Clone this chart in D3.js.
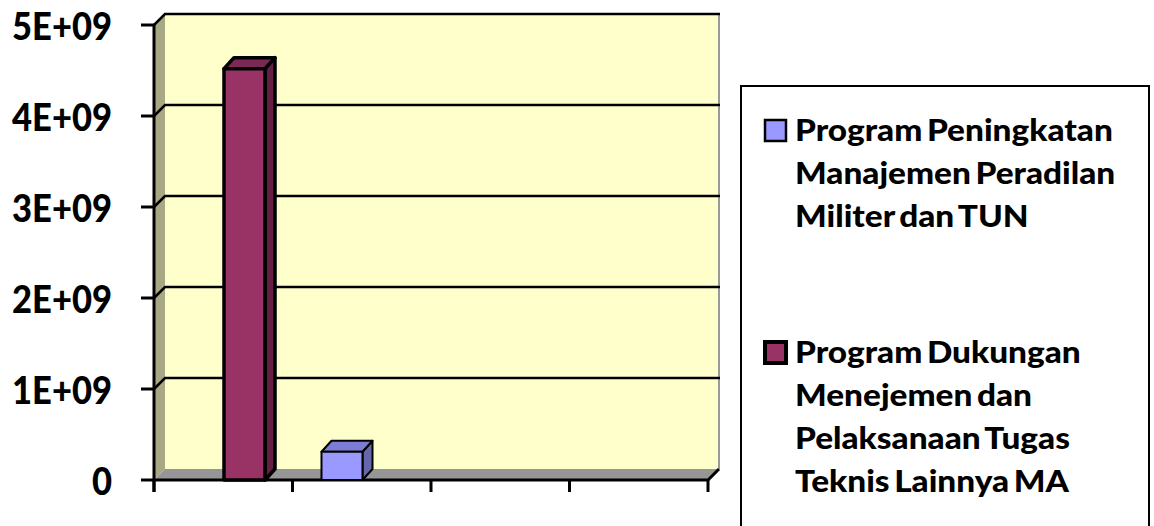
<!DOCTYPE html>
<html>
<head>
<meta charset="utf-8">
<script src="https://cdn.jsdelivr.net/npm/d3@7"></script>
<style>
  html, body { margin: 0; padding: 0; background: #fff; }
  svg { display: block; }
  text { font-family: Lato, "Open Sans", sans-serif; font-weight: 900; fill: #000; }
</style>
</head>
<body>
<svg id="chart" width="1154" height="526"></svg>
<script>
// data
const categories = ["1", "2", "3", "4"];
const seriesNames = [
  "Program Peningkatan Manajemen Peradilan Militer dan TUN",
  "Program Dukungan Menejemen dan Pelaksanaan Tugas Teknis Lainnya MA"
];
const peningkatanValues = [0, 310000000, 0, 0];
const dukunganValues = [4520000000, 0, 0, 0];
const yTickValues = [0, 1e9, 2e9, 3e9, 4e9, 5e9];
const yTickLabels = ["0", "1E+09", "2E+09", "3E+09", "4E+09", "5E+09"];
const legendLines = [
  ["Program Peningkatan", "Manajemen Peradilan", "Militer dan TUN"],
  ["Program Dukungan", "Menejemen dan", "Pelaksanaan Tugas", "Teknis Lainnya MA"]
];

const svg = d3.select("#chart");

const plotLeft = 154, plotRight = 708, plotTop = 25, plotBottom = 480;
const depthX = 11, depthY = 11;

const y = d3.scaleLinear().domain([0, 5e9]).range([plotBottom, plotTop]);
const x = d3.scaleBand().domain(categories).range([plotLeft, plotRight]);
const xs = d3.scaleBand().domain([0, 1]).range([29, 111]);

const styles = [
  { front: "#9999FF", topFace: "#7C7CD6", side: "#6666AA", stroke: 2 },
  { front: "#993366", topFace: "#7A2955", side: "#632043", stroke: 3.5 }
];

// side wall
svg.append("polygon")
  .attr("points", [[plotLeft, plotTop], [plotLeft + depthX, plotTop - depthY], [plotLeft + depthX, plotBottom - depthY], [plotLeft, plotBottom]].join(" "))
  .attr("fill", "#A8A884");

// back wall
svg.append("rect")
  .attr("x", plotLeft + depthX).attr("y", plotTop - depthY)
  .attr("width", plotRight - plotLeft).attr("height", plotBottom - plotTop)
  .attr("fill", "#FFFFCC");

// floor
svg.append("polygon")
  .attr("points", [[plotLeft, plotBottom], [plotLeft + depthX, plotBottom - depthY], [plotRight + depthX, plotBottom - depthY], [plotRight, plotBottom]].join(" "))
  .attr("fill", "#969696");

// back wall right edge
svg.append("line")
  .attr("x1", plotRight + depthX).attr("x2", plotRight + depthX)
  .attr("y1", plotTop - depthY).attr("y2", plotBottom - depthY)
  .attr("stroke", "#999").attr("stroke-width", 2);

// gridlines (zero is the floor, top one is the wall border)
const grid = svg.append("g").attr("stroke", "#000").attr("stroke-width", 2.5).attr("fill", "none");
yTickValues.filter(v => v > 0).forEach(v => {
  grid.append("polyline")
    .attr("points", [[plotLeft, y(v)], [plotLeft + depthX, y(v) - depthY], [plotRight + depthX + 1, y(v) - depthY]].join(" "));
});

// floor front edge
svg.append("polyline")
  .attr("points", [[plotLeft, plotBottom], [plotRight, plotBottom], [plotRight + depthX, plotBottom - depthY]].join(" "))
  .attr("fill", "none").attr("stroke", "#000").attr("stroke-width", 3);

// bars
const bars = [];
[peningkatanValues, dukunganValues].forEach((vals, s) => {
  vals.forEach((v, i) => { if (v > 0) bars.push({ s, cat: categories[i], v }); });
});

const barG = svg.append("g");
const bdx = 10, bdy = 11;
bars.forEach(d => {
  const st = styles[d.s];
  const x0 = x(d.cat) + xs(d.s), w = xs.bandwidth();
  const yt = y(d.v);
  const g = barG.append("g")
    .attr("stroke", "#000").attr("stroke-width", st.stroke).attr("stroke-linejoin", "round");
  g.append("polygon")
    .attr("points", [[x0 + w, yt], [x0 + w + bdx, yt - bdy], [x0 + w + bdx, plotBottom - bdy], [x0 + w, plotBottom]].join(" "))
    .attr("fill", st.side);
  g.append("polygon")
    .attr("points", [[x0, yt], [x0 + bdx, yt - bdy], [x0 + w + bdx, yt - bdy], [x0 + w, yt]].join(" "))
    .attr("fill", st.topFace);
  g.append("rect")
    .attr("x", x0).attr("y", yt).attr("width", w).attr("height", plotBottom - yt)
    .attr("fill", st.front);
});

// y axis
svg.append("line")
  .attr("x1", plotLeft).attr("x2", plotLeft).attr("y1", plotTop).attr("y2", plotBottom + 12)
  .attr("stroke", "#000").attr("stroke-width", 3);

svg.append("g").selectAll("line").data(yTickValues).join("line")
  .attr("x1", plotLeft - 13).attr("x2", plotLeft)
  .attr("y1", d => y(d)).attr("y2", d => y(d))
  .attr("stroke", "#000").attr("stroke-width", 3);

// x ticks at category boundaries
const xBounds = categories.map(c => x(c)).concat([plotRight]);
svg.append("g").selectAll("line").data(xBounds).join("line")
  .attr("x1", d => d).attr("x2", d => d)
  .attr("y1", plotBottom).attr("y2", plotBottom + 12)
  .attr("stroke", "#000").attr("stroke-width", 3);

// y labels
const yLab = svg.append("g").selectAll("text").data(yTickValues).join("text")
  .attr("text-anchor", "end")
  .attr("font-size", 38)
  .attr("dy", "0.36em")
  .text((d, i) => yTickLabels[i]);
const probeY = yLab.filter(d => d === 5e9).node().getComputedTextLength();
const syY = 100 / probeY;
yLab.attr("transform", d => `translate(112,${y(d) + 1}) scale(${syY},1)`);

// legend
svg.append("rect")
  .attr("x", 741).attr("y", 86).attr("width", 408).attr("height", 520)
  .attr("fill", "#fff").attr("stroke", "#000").attr("stroke-width", 2);

const legendBase = [141, 363];
const legG = svg.append("g");
const legTexts = [];
legendLines.forEach((lines, s) => {
  const st = styles[s];
  legG.append("rect")
    .attr("x", 765).attr("y", legendBase[s] - 21).attr("width", 21).attr("height", 21)
    .attr("fill", st.front).attr("stroke", "#000").attr("stroke-width", st.stroke + 0.5);
  lines.forEach((t, k) => {
    legTexts.push({ t, yb: legendBase[s] + k * 43 });
  });
});
const legT = legG.selectAll("text").data(legTexts).join("text")
  .attr("font-size", 30)
  .attr("word-spacing", -3)
  .text(d => d.t);
const probeL = legT.filter(d => d.t === "Program Peningkatan").node().getComputedTextLength();
const sL = 318 / probeL;
legT.attr("transform", d => `translate(795,${d.yb}) scale(${sL},1)`);
</script>
</body>
</html>
